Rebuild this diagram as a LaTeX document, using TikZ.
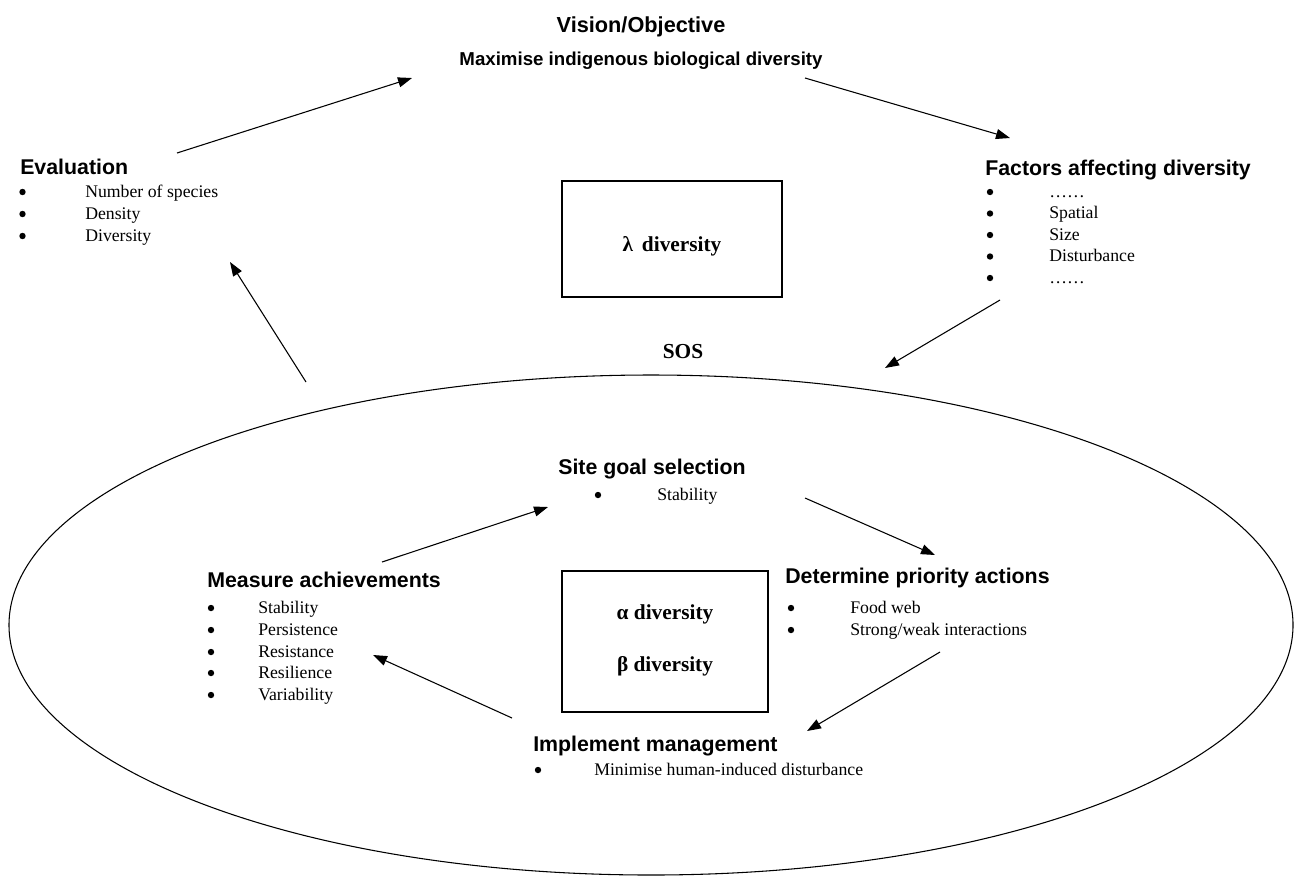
\documentclass[tikz,border=0pt]{standalone}
\usepackage{fontspec}
\setmainfont{Liberation Serif}
\newfontfamily\hfont{Liberation Sans}
\usetikzlibrary{shapes.geometric,arrows.meta}
\begin{document}
\begin{tikzpicture}[x=0.75pt,y=-0.75pt,
  head/.style={font={\hfont\bfseries\fontsize{16}{19}\selectfont}, inner sep=0pt, anchor=base west},
  title/.style={font={\hfont\bfseries\fontsize{16.3}{19}\selectfont}, inner sep=0pt, anchor=base},
  subtitle/.style={font={\hfont\bfseries\fontsize{14}{17}\selectfont}, inner sep=0pt, anchor=base},
  itemtext/.style={font={\fontsize{13.3}{16}\selectfont}, inner sep=0pt, anchor=base west},
  bul/.style={circle, fill=black, inner sep=0pt, minimum size=4.8pt},
  greek/.style={font={\bfseries\fontsize{16}{19}\selectfont}, inner sep=0pt, anchor=base},
  frame/.style={draw, line width=0.8pt, inner sep=0pt},
  arr/.style={line width=0.8pt, -{Triangle[length=10.5pt,width=7.5pt]}}
]
\useasboundingbox (0,0) rectangle (1294,876);

% ellipse (SOS)
\node[frame, ellipse, minimum width=963pt, minimum height=375pt] (sosell) at (651,625) {};

% title
\node[title] (vision) at (641,32) {Vision/Objective};
\node[subtitle] (maxim) at (641,65) {Maximise indigenous biological diversity};

% Evaluation
\node[head] (evalh) at (20,174) {Evaluation};
\node[bul] (evb1) at (22.5,192) {};
\node[itemtext] (evt1) at (85,197) {Number of species};
\node[bul] (evb2) at (22.5,214) {};
\node[itemtext] (evt2) at (85,219) {Density};
\node[bul] (evb3) at (22.5,236) {};
\node[itemtext] (evt3) at (85,241) {Diversity};

% Factors
\node[head] (facth) at (985,175) {Factors affecting diversity};
\node[bul] (fab1) at (990,192) {};
\node[itemtext] (fat1) at (1049,197) {……};
\node[bul] (fab2) at (990,213.5) {};
\node[itemtext] (fat2) at (1049,218.5) {Spatial};
\node[bul] (fab3) at (990,235) {};
\node[itemtext] (fat3) at (1049,240) {Size};
\node[bul] (fab4) at (990,256.5) {};
\node[itemtext] (fat4) at (1049,261.5) {Disturbance};
\node[bul] (fab5) at (990,278) {};
\node[itemtext] (fat5) at (1049,283) {……};

% lambda box
\node[frame, minimum width=165pt, minimum height=87pt] (lbox) at (672,239) {};
\node[greek] (ltext) at (672,251) {λ\, diversity};

\node[greek] (sos) at (683,358) {SOS};

% Site goal selection
\node[head] (siteh) at (558,474) {Site goal selection};
\node[bul] (sib1) at (598,495) {};
\node[itemtext] (sit1) at (657,500) {Stability};

% Determine priority actions
\node[head] (deth) at (785,583) {Determine priority actions};
\node[bul] (deb1) at (791,608) {};
\node[itemtext] (det1) at (850,613) {Food web};
\node[bul] (deb2) at (791,630) {};
\node[itemtext] (det2) at (850,635) {Strong/weak interactions};

% alpha beta box
\node[frame, minimum width=154.5pt, minimum height=105.75pt] (abox) at (665,641.5) {};
\node[greek] (atext) at (665,619) {α diversity};
\node[greek] (btext) at (665,671) {β diversity};

% Measure achievements
\node[head] (meash) at (207,587) {Measure achievements};
\node[bul] (meb1) at (211,608) {};
\node[itemtext] (met1) at (258,613) {Stability};
\node[bul] (meb2) at (211,630) {};
\node[itemtext] (met2) at (258,635) {Persistence};
\node[bul] (meb3) at (211,652) {};
\node[itemtext] (met3) at (258,657) {Resistance};
\node[bul] (meb4) at (211,673) {};
\node[itemtext] (met4) at (258,678) {Resilience};
\node[bul] (meb5) at (211,695) {};
\node[itemtext] (met5) at (258,700) {Variability};

% Implement management
\node[head] (implh) at (533,751) {Implement management};
\node[bul] (imb1) at (538,770) {};
\node[itemtext] (imt1) at (594,775) {Minimise human-induced disturbance};

% arrow endpoints
\coordinate (evs) at (177,153);
\coordinate (vie) at (412,78);
\coordinate (vis) at (805,78);
\coordinate (fae) at (1010,138);
\coordinate (fas) at (1000,300);
\coordinate (soe) at (885,368);
\coordinate (sos1) at (306,382);
\coordinate (eve) at (230,262);
\coordinate (mes) at (382,562);
\coordinate (sie) at (548,507);
\coordinate (sis) at (805,498);
\coordinate (dee) at (935,555);
\coordinate (des) at (940,652);
\coordinate (ime) at (807,731);
\coordinate (ims) at (512,718);
\coordinate (mee) at (373,655);

\draw[arr] (evs) -- (vie);
\draw[arr] (vis) -- (fae);
\draw[arr] (fas) -- (soe);
\draw[arr] (sos1) -- (eve);
\draw[arr] (mes) -- (sie);
\draw[arr] (sis) -- (dee);
\draw[arr] (des) -- (ime);
\draw[arr] (ims) -- (mee);
\end{tikzpicture}
\end{document}
